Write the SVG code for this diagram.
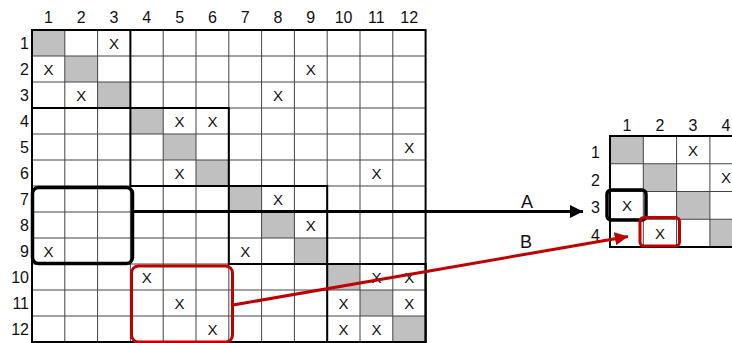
<svg xmlns="http://www.w3.org/2000/svg" width="732" height="343" viewBox="0 0 732 343">
<defs>
<style>
.lbl{font-family:"Liberation Sans",Arial,sans-serif;font-size:16px;fill:#111;text-anchor:middle}
.rl{font-family:"Liberation Sans",Arial,sans-serif;font-size:16px;fill:#111;text-anchor:end}
.x{font-family:"Liberation Sans",Arial,sans-serif;font-size:15px;fill:#111;text-anchor:middle}
.big{font-family:"Liberation Sans",Arial,sans-serif;font-size:18px;fill:#111;text-anchor:middle}
.g{fill:#c0c0c0}
.thin{stroke:#444;stroke-width:1;fill:none}
.blk{stroke:#000;stroke-width:2;fill:none}
</style>
<marker id="ahK" viewBox="0 0 10 10" refX="10" refY="5" markerWidth="4.4" markerHeight="4.4" orient="auto" markerUnits="strokeWidth"><path d="M0,0 L10,5 L0,10 z" fill="#000"/></marker>
<marker id="ahR" viewBox="0 0 10 10" refX="10" refY="5" markerWidth="4.4" markerHeight="4.4" orient="auto" markerUnits="strokeWidth"><path d="M0,0 L10,5 L0,10 z" fill="#c00000"/></marker>
</defs>
<rect width="732" height="343" fill="#fff"/>

<g id="bigMatrix">
<g id="bigCells">
<rect class="g" x="32" y="30" width="32.8" height="26"/>
<rect class="g" x="64.8" y="56" width="32.8" height="26"/>
<rect class="g" x="97.6" y="82" width="32.8" height="26"/>
<rect class="g" x="130.4" y="108" width="32.8" height="26"/>
<rect class="g" x="163.2" y="134" width="32.8" height="26"/>
<rect class="g" x="196" y="160" width="32.8" height="26"/>
<rect class="g" x="228.8" y="186" width="32.8" height="26"/>
<rect class="g" x="261.6" y="212" width="32.8" height="26"/>
<rect class="g" x="294.4" y="238" width="32.8" height="26"/>
<rect class="g" x="327.2" y="264" width="32.8" height="26"/>
<rect class="g" x="360" y="290" width="32.8" height="26"/>
<rect class="g" x="392.8" y="316" width="32.8" height="26"/>
</g>
<g id="bigGrid" class="thin">
<path d="M64.8,30V342M97.6,30V342M130.4,30V342M163.2,30V342M196,30V342M228.8,30V342M261.6,30V342M294.4,30V342M327.2,30V342M360,30V342M392.8,30V342"/>
<path d="M32,56H425.6M32,82H425.6M32,108H425.6M32,134H425.6M32,160H425.6M32,186H425.6M32,212H425.6M32,238H425.6M32,264H425.6M32,290H425.6M32,316H425.6"/>
</g>
<g id="bigBlocks" class="blk">
<rect x="32" y="30" width="393.6" height="312"/>
<rect x="32" y="30" width="98.4" height="78"/>
<rect x="130.4" y="108" width="98.4" height="78"/>
<rect x="228.8" y="186" width="98.4" height="78"/>
<rect x="327.2" y="264" width="98.4" height="78"/>
</g>
<g id="bigColLabels">
<text class="lbl" x="48.4" y="23">1</text>
<text class="lbl" x="81.2" y="23">2</text>
<text class="lbl" x="114" y="23">3</text>
<text class="lbl" x="146.8" y="23">4</text>
<text class="lbl" x="179.6" y="23">5</text>
<text class="lbl" x="212.4" y="23">6</text>
<text class="lbl" x="245.2" y="23">7</text>
<text class="lbl" x="278" y="23">8</text>
<text class="lbl" x="310.8" y="23">9</text>
<text class="lbl" x="343.6" y="23">10</text>
<text class="lbl" x="376.4" y="23">11</text>
<text class="lbl" x="409.2" y="23">12</text>
</g>
<g id="bigRowLabels">
<text class="rl" x="29" y="49">1</text>
<text class="rl" x="29" y="75">2</text>
<text class="rl" x="29" y="101">3</text>
<text class="rl" x="29" y="127">4</text>
<text class="rl" x="29" y="153">5</text>
<text class="rl" x="29" y="179">6</text>
<text class="rl" x="29" y="205">7</text>
<text class="rl" x="29" y="231">8</text>
<text class="rl" x="29" y="257">9</text>
<text class="rl" x="29" y="283">10</text>
<text class="rl" x="29" y="309">11</text>
<text class="rl" x="29" y="335">12</text>
</g>
<g id="bigX">
<text class="x" x="114" y="48.5">X</text>
<text class="x" x="48.4" y="74.5">X</text>
<text class="x" x="310.8" y="74.5">X</text>
<text class="x" x="81.2" y="100.5">X</text>
<text class="x" x="278" y="100.5">X</text>
<text class="x" x="179.6" y="126.5">X</text>
<text class="x" x="212.4" y="126.5">X</text>
<text class="x" x="409.2" y="152.5">X</text>
<text class="x" x="179.6" y="178.5">X</text>
<text class="x" x="376.4" y="178.5">X</text>
<text class="x" x="278" y="204.5">X</text>
<text class="x" x="310.8" y="230.5">X</text>
<text class="x" x="48.4" y="256.5">X</text>
<text class="x" x="245.2" y="256.5">X</text>
<text class="x" x="146.8" y="282.5">X</text>
<text class="x" x="376.4" y="282.5">X</text>
<text class="x" x="409.2" y="282.5">X</text>
<text class="x" x="179.6" y="308.5">X</text>
<text class="x" x="343.6" y="308.5">X</text>
<text class="x" x="409.2" y="308.5">X</text>
<text class="x" x="212.4" y="334.5">X</text>
<text class="x" x="343.6" y="334.5">X</text>
<text class="x" x="376.4" y="334.5">X</text>
</g>
</g>

<g id="smallMatrix">
<rect class="g" x="610" y="136" width="33.3" height="27.75"/>
<rect class="g" x="643.3" y="163.75" width="33.3" height="27.75"/>
<rect class="g" x="676.6" y="191.5" width="33.3" height="27.75"/>
<rect class="g" x="709.9" y="219.25" width="33.3" height="27.75"/>
<path class="thin" d="M643.3,136V247M676.6,136V247M709.9,136V247M610,163.75H743M610,191.5H743M610,219.25H743"/>
<rect class="blk" x="610" y="136" width="133.2" height="111"/>
<text class="lbl" x="627" y="131">1</text>
<text class="lbl" x="660" y="131">2</text>
<text class="lbl" x="693" y="131">3</text>
<text class="lbl" x="726" y="131">4</text>
<text class="rl" x="600" y="158">1</text>
<text class="rl" x="600" y="185.5">2</text>
<text class="rl" x="600" y="213">3</text>
<text class="rl" x="600" y="240.5">4</text>
<text class="x" x="693" y="155.5">X</text>
<text class="x" x="726" y="183">X</text>
<text class="x" x="627" y="210.5">X</text>
<text class="x" x="660" y="238.5">X</text>
</g>

<g id="highlights">
<rect id="boxA" x="32.5" y="187.5" width="100" height="76" rx="6" fill="none" stroke="#000" stroke-width="3.5"/>
<rect id="boxB" x="131.5" y="266" width="101" height="76" rx="7" fill="none" stroke="#c00000" stroke-width="3"/>
<rect id="smallA" x="607" y="190" width="39" height="30" rx="4" fill="none" stroke="#000" stroke-width="3.5"/>
<rect id="smallB" x="640" y="217.5" width="39.5" height="28.5" rx="4" fill="none" stroke="#c00000" stroke-width="3"/>
</g>

<g id="connectors">
<line x1="134" y1="211.5" x2="583" y2="211.5" stroke="#000" stroke-width="3" marker-end="url(#ahK)"/>
<line x1="233" y1="305" x2="628" y2="236.5" stroke="#c00000" stroke-width="3" marker-end="url(#ahR)"/>
<text class="big" x="527" y="208">A</text>
<text class="big" x="526" y="248">B</text>
</g>
</svg>
